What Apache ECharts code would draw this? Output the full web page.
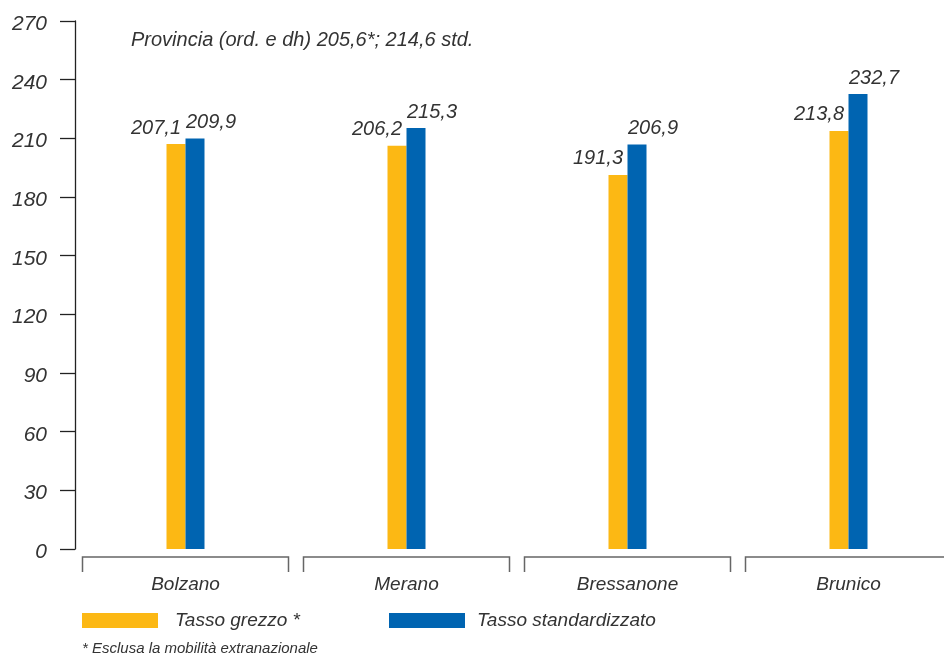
<!DOCTYPE html>
<html>
<head>
<meta charset="utf-8">
<script src="https://cdn.jsdelivr.net/npm/echarts@6/dist/echarts.min.js"></script>
<style>html,body{margin:0;padding:0;background:#fff}#c{width:944px;height:656px}</style>
</head>
<body>
<div id="c"></div>
<script>
const categories = ['Bolzano', 'Merano', 'Bressanone', 'Brunico'];
const grezzo = [207.1, 206.2, 191.3, 213.8];
const standard = [209.9, 215.3, 206.9, 232.7];
const seriesNames = ['Tasso grezzo *', 'Tasso standardizzato'];
const yTicks = { min: 0, max: 270, interval: 30 };
const noteText = 'Provincia (ord. e dh) 205,6*; 214,6 std.';
const footText = '* Esclusa la mobilità extranazionale';

const FONT = "'Liberation Sans', Arial, sans-serif";
const TXT = '#333333';
const fmt = v => String(v).replace('.', ',');

// layout: grid geometry and per-category band width in pixels
const GRID_LEFT = 75, GRID_TOP = 21, GRID_H = 528, CHART_W = 944;
const BAND_PX = 221;
const xMax = (CHART_W - GRID_LEFT) / BAND_PX - 0.5;

const chart = echarts.init(document.getElementById('c'), null, { renderer: 'canvas' });
chart.setOption({
  animation: false,
  backgroundColor: '#ffffff',
  textStyle: { fontFamily: FONT, fontStyle: 'italic', color: TXT },
  grid: { left: GRID_LEFT, top: GRID_TOP, right: 0, height: GRID_H, containLabel: false },
  title: [
    { text: noteText, left: 126, top: 25, padding: 5, textStyle: { fontFamily: FONT, fontStyle: 'italic', fontWeight: 'normal', fontSize: 20, color: TXT } },
    { text: footText, left: 77, top: 636, padding: 5, textStyle: { fontFamily: FONT, fontStyle: 'italic', fontWeight: 'normal', fontSize: 15, color: TXT } }
  ],
  legend: [
    { data: [seriesNames[0]], left: 82, top: 611, padding: 0, itemWidth: 76, itemHeight: 15, icon: 'rect', itemGap: 0,
      textStyle: { fontFamily: FONT, fontStyle: 'italic', fontSize: 19, color: TXT, padding: [0, 0, 0, 12] } },
    { data: [seriesNames[1]], left: 389, top: 611, padding: 0, itemWidth: 76, itemHeight: 15, icon: 'rect', itemGap: 0,
      textStyle: { fontFamily: FONT, fontStyle: 'italic', fontSize: 19, color: TXT, padding: [0, 0, 0, 7] } }
  ],
  xAxis: {
    type: 'value', min: -0.5, max: xMax, show: false
  },
  yAxis: {
    type: 'value', min: yTicks.min, max: yTicks.max, interval: yTicks.interval,
    axisLine: { show: true, onZero: false, lineStyle: { color: '#222', width: 1.3 } },
    axisTick: { show: true, length: 15, lineStyle: { color: '#222', width: 1.3 } },
    splitLine: { show: false },
    axisLabel: { margin: 28, formatter: v => '{t|' + v + '}',
      rich: { t: { fontFamily: FONT, fontStyle: 'italic', fontSize: 21, color: TXT, padding: [6, 0, 0, 0] } } }
  },
  series: [
    { name: seriesNames[0], type: 'bar', data: grezzo.map((v, i) => [i, v]), barWidth: 19, barGap: '0%',
      itemStyle: { color: '#FCB814' },
      label: { show: true, position: 'top', distance: 6, offset: [-20, 0], formatter: p => fmt(p.value[1]),
        fontFamily: FONT, fontStyle: 'italic', fontSize: 20, color: TXT } },
    { name: seriesNames[1], type: 'bar', data: standard.map((v, i) => [i, v]), barWidth: 19, barGap: '0%',
      itemStyle: { color: '#0064B1' },
      label: { show: true, position: 'top', distance: 6, offset: [16, 0], formatter: p => fmt(p.value[1]),
        fontFamily: FONT, fontStyle: 'italic', fontSize: 20, color: TXT } },
    { type: 'custom', silent: true, clip: false, z: 1,
      data: categories.map((c, i) => [i, 0]),
      renderItem: function (params, api) {
        const idx = api.value(0);
        const p = api.coord([idx, 0]);
        const band = api.size([1, 0])[0];
        const x0 = p[0] - band / 2 + 7.5, x1 = p[0] + band / 2 - 7.5;
        const y0 = p[1] + 8, y1 = p[1] + 23;
        return { type: 'group', children: [
          { type: 'polyline', shape: { points: [[x0, y1], [x0, y0], [x1, y0], [x1, y1]] },
            style: { stroke: '#666', lineWidth: 1.5, fill: null } },
          { type: 'text', style: { text: categories[idx], x: p[0], y: p[1] + 36, align: 'center', verticalAlign: 'middle',
            fontFamily: FONT, fontStyle: 'italic', fontSize: 19, fill: TXT } }
        ] };
      }
    }
  ]
});
</script>
</body>
</html>
